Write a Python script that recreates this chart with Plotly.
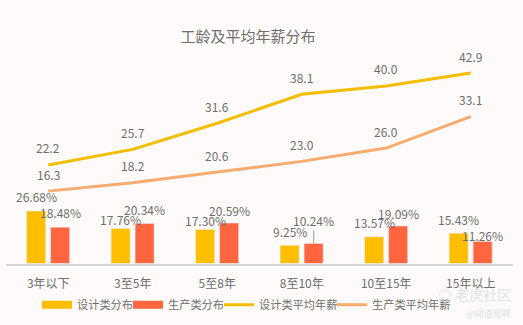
import plotly.graph_objects as go

categories = ["3年以下", "3至5年", "5至8年", "8至10年", "10至15年", "15年以上"]
design_pct = [26.68, 17.76, 17.30, 9.25, 13.57, 15.43]
prod_pct = [18.48, 20.34, 20.59, 10.24, 19.09, 11.26]
design_salary = [22.2, 25.7, 31.6, 38.1, 40.0, 42.9]
prod_salary = [16.3, 18.2, 20.6, 23.0, 26.0, 33.1]

# label vertical offsets (px) above bar tops, mimicking the reference layout
design_label_shift = [15, 9, 9, 14, 14, 14]
prod_label_shift = [15, 14, 13, 23, 13, 6]

FONT = "Noto Sans CJK SC, Microsoft YaHei, sans-serif"
TXT = "#6e6e6e"
BG = "#fdfaf9"
C_DBAR = "#ffbf00"
C_PBAR = "#ff6640"
C_DLINE = "#f4be00"
C_PLINE = "#f7ab6e"

fig = go.Figure()
fig.add_bar(x=categories, y=design_pct, name="设计类分布", marker_color=C_DBAR,
            width=0.225, offset=-0.256, yaxis="y", showlegend=False)
fig.add_bar(x=categories, y=prod_pct, name="生产类分布", marker_color=C_PBAR,
            width=0.225, offset=0.028, yaxis="y", showlegend=False)
fig.add_scatter(x=categories, y=design_salary, name="设计类平均年薪", mode="lines",
                line=dict(color=C_DLINE, width=3), yaxis="y2", showlegend=False)
fig.add_scatter(x=categories, y=prod_salary, name="生产类平均年薪", mode="lines",
                line=dict(color=C_PLINE, width=3), yaxis="y2", showlegend=False)

# legend-only entries (rectangular bar icons like the reference), one legend box each
legend_items = [("设计类分布", C_DBAR, 8, "legend"), ("生产类分布", C_PBAR, 8, "legend2"),
                ("设计类平均年薪", C_DLINE, 3, "legend3"), ("生产类平均年薪", C_PLINE, 3, "legend4")]
for nm, col, w, lg in legend_items:
    fig.add_scatter(x=[None], y=[None], name=nm, mode="lines", legend=lg,
                    line=dict(color=col, width=w), yaxis="y2", showlegend=True)

ann = []
for c, v in zip(categories, design_salary):
    ann.append(dict(x=c, y=v, xref="x", yref="y2", text=f"{v:.1f}", showarrow=False,
                    yshift=17, font=dict(size=12, color=TXT, family=FONT)))
for c, v in zip(categories, prod_salary):
    ann.append(dict(x=c, y=v, xref="x", yref="y2", text=f"{v:.1f}", showarrow=False,
                    yshift=17, font=dict(size=12, color=TXT, family=FONT)))
for c, v, s in zip(categories, design_pct, design_label_shift):
    ann.append(dict(x=c, y=v, xref="x", yref="y", text=f"{v:.2f}%", showarrow=False,
                    xshift=-12, yshift=s, font=dict(size=12, color=TXT, family=FONT)))
for c, v, s in zip(categories, prod_pct, prod_label_shift):
    if s > 20:
        ann.append(dict(x=c, y=v, xref="x", yref="y", text=f"{v:.2f}%", showarrow=True,
                        arrowhead=0, arrowwidth=1, arrowcolor="#999999", ax=0, ay=-s,
                        standoff=0, xshift=12, font=dict(size=12, color=TXT, family=FONT)))
    else:
        ann.append(dict(x=c, y=v, xref="x", yref="y", text=f"{v:.2f}%", showarrow=False,
                        xshift=12, yshift=s, font=dict(size=12, color=TXT, family=FONT)))

ann.append(dict(x=0.98, y=0.095, xref="paper", yref="paper", xanchor="right", yanchor="middle",
                text="◎ 老虎社区", showarrow=False, font=dict(size=14, color="#e2e2e2", family=FONT)))
ann.append(dict(x=0.98, y=0.035, xref="paper", yref="paper", xanchor="right", yanchor="middle",
                text="@闻道猎聘", showarrow=False, font=dict(size=9, color="#e2e2e2", family=FONT)))

leg_common = dict(orientation="h", yanchor="middle", y=0.062, xanchor="left",
                  font=dict(size=11.2, color=TXT, family=FONT), itemwidth=30,
                  bgcolor="rgba(0,0,0,0)")

fig.update_layout(
    width=523, height=325,
    margin=dict(l=0, r=0, t=0, b=0),
    paper_bgcolor=BG, plot_bgcolor=BG,
    barmode="overlay",
    title=dict(text="工龄及平均年薪分布", x=0.474, xanchor="center", y=0.886, yanchor="middle",
               font=dict(size=15, color=TXT, family=FONT)),
    xaxis=dict(domain=[6 / 523, 513 / 523], showline=True, linecolor="#d6d6d6", linewidth=2,
               ticks="", ticklabelstandoff=8, showgrid=False,
               tickfont=dict(size=12, color=TXT, family=FONT)),
    yaxis=dict(domain=[(325 - 263.5) / 325, (325 - 41.5) / 325], range=[0, 113],
               visible=False, showgrid=False, zeroline=False),
    yaxis2=dict(domain=[(325 - 263.5) / 325, (325 - 41.5) / 325], range=[0, 50],
                overlaying="y", side="right", visible=False, showgrid=False, zeroline=False),
    legend=dict(leg_common, x=37 / 523),
    legend2=dict(leg_common, x=128 / 523),
    legend3=dict(leg_common, x=219 / 523),
    legend4=dict(leg_common, x=332 / 523),
    annotations=ann,
    showlegend=True,
)

fig.write_html("out.html")
